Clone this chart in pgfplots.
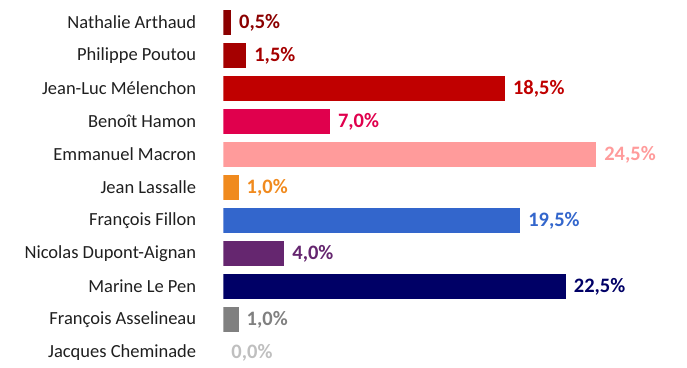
\documentclass[border=0pt]{standalone}
\usepackage{fontspec}
\setmainfont{Carlito}
\usepackage{pgfplots}
\pgfplotsset{compat=1.18}
\definecolor{cNA}{HTML}{8B0000}
\definecolor{cPP}{HTML}{A50000}
\definecolor{cJLM}{HTML}{C00000}
\definecolor{cBH}{HTML}{E0004D}
\definecolor{cEM}{HTML}{FF9B9B}
\definecolor{cJL}{HTML}{F08A1E}
\definecolor{cFF}{HTML}{3366CC}
\definecolor{cNDA}{HTML}{65266F}
\definecolor{cMLP}{HTML}{000066}
\definecolor{cFA}{HTML}{808080}
\definecolor{cJC}{HTML}{BFBFBF}
\begin{document}
\begin{tikzpicture}
\useasboundingbox (-223.3pt,0pt) rectangle (463.7pt,367pt);
\begin{axis}[
  at={(0pt,0pt)}, anchor=south west,
  scale only axis, width=463.7pt, height=367pt,
  xbar, bar width=25pt, bar shift=0pt,
  xmin=0, xmax=30.47,
  ymin=-0.682, ymax=10.44, y dir=reverse,
  axis line style={draw=none},
  xtick=\empty,
  ytick={0,...,10},
  yticklabels={Nathalie Arthaud,Philippe Poutou,Jean-Luc Mélenchon,Benoît Hamon,Emmanuel Macron,Jean Lassalle,François Fillon,Nicolas Dupont-Aignan,Marine Le Pen,François Asselineau,Jacques Cheminade},
  yticklabel style={anchor=east, inner sep=0pt, xshift=-27pt, font=\fontsize{18.5}{20}\selectfont, text=black!88},
  major tick length=0pt, tick style={draw=none},
  nodes near coords={\pgfmathprintnumber[use comma,fixed,fixed zerofill,precision=1,assume math mode=true]{\pgfplotspointmeta}\%},
  every node near coord/.append style={anchor=west, inner sep=0pt, xshift=8pt, font=\fontsize{20.5}{22}\selectfont\bfseries},
]
\addplot[fill=cNA, draw=none, nodes near coords style={text=cNA}] coordinates {(0.5,0)};
\addplot[fill=cPP, draw=none, nodes near coords style={text=cPP}] coordinates {(1.5,1)};
\addplot[fill=cJLM, draw=none, nodes near coords style={text=cJLM}] coordinates {(18.5,2)};
\addplot[fill=cBH, draw=none, nodes near coords style={text=cBH}] coordinates {(7.0,3)};
\addplot[fill=cEM, draw=none, nodes near coords style={text=cEM}] coordinates {(24.5,4)};
\addplot[fill=cJL, draw=none, nodes near coords style={text=cJL}] coordinates {(1.0,5)};
\addplot[fill=cFF, draw=none, nodes near coords style={text=cFF}] coordinates {(19.5,6)};
\addplot[fill=cNDA, draw=none, nodes near coords style={text=cNDA}] coordinates {(4.0,7)};
\addplot[fill=cMLP, draw=none, nodes near coords style={text=cMLP}] coordinates {(22.5,8)};
\addplot[fill=cFA, draw=none, nodes near coords style={text=cFA}] coordinates {(1.0,9)};
\addplot[fill=cJC, draw=none, nodes near coords style={text=cJC}] coordinates {(0.0,10)};
\end{axis}
\end{tikzpicture}
\end{document}
